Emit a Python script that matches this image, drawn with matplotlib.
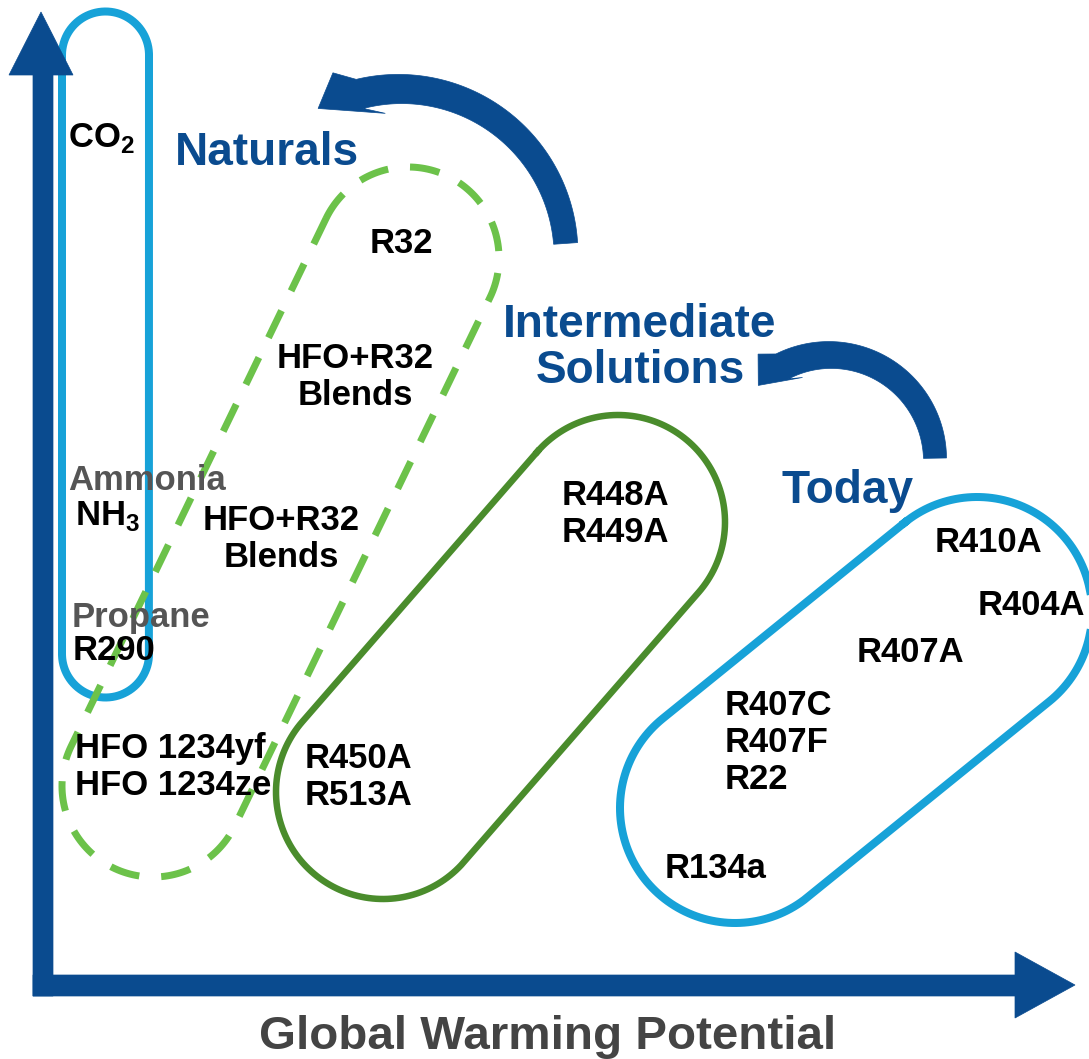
import numpy as np
import matplotlib.pyplot as plt
from matplotlib.patches import Polygon

plt.rcParams['font.family'] = ['Liberation Sans', 'DejaVu Sans']
plt.rcParams['font.weight'] = 'bold'
plt.rcParams['mathtext.fontset'] = 'custom'
plt.rcParams['mathtext.rm'] = 'Liberation Sans:bold'
plt.rcParams['mathtext.bf'] = 'Liberation Sans:bold'
plt.rcParams['lines.scale_dashes'] = False

W, H = 1089, 1059
PT = 0.72  # points per pixel at 100 dpi

# refrigerant families, drawn as rounded capsules (bottom end, top end, radius)
families = ["Naturals", "HFO / R32", "Intermediate", "Today"]
family_ends = [((105.5, 654), (105.5, 55)), ((153, 786), (408, 258)),
               ((383, 792), (618, 522)), ((735, 808), (977, 612))]
family_radius = [43.5, 91, 107, 115]
family_colors = ["#17a2d8", "#6cc24a", "#4a8c2c", "#17a2d8"]
family_dashed = [False, True, False, False]

# refrigerants inside the capsules
refrigerants = ["CO$_\\mathbf{2}$", "R32", "HFO+R32\nBlends", "NH$_\\mathbf{3}$",
                "HFO+R32\nBlends", "R290", "HFO 1234yf\nHFO 1234ze",
                "R448A\nR449A", "R450A\nR513A", "R410A", "R404A", "R407A",
                "R407C\nR407F\nR22", "R134a"]
refrigerant_xy = [(68, 147), (370, 253), (355, 368), (75, 525), (281, 530),
                  (73, 660), (75, 758), (562, 505), (305, 768), (935, 552),
                  (978, 615), (857, 662), (725, 715), (665, 878)]
refrigerant_ha = ["left", "left", "center", "left", "center", "left", "left",
                  "left", "left", "left", "left", "left", "left", "left"]

common_names = ["Ammonia", "Propane"]
common_xy = [(68, 490), (72, 627)]

stages = ["Naturals", "Intermediate\nSolutions", "Today"]
stage_xy = [(175, 165), (640, 337), (782, 503)]
stage_ha = ["left", "center", "left"]

# transition arrows: centre, radius, start/end angle
transition_center = [(400, 255), (830, 460)]
transition_radius = [166, 105]
transition_angles = [(4, 104), (1, 117)]

x_label = "Global Warming Potential"

navy = "#0a4b8f"
fig = plt.figure(figsize=(W / 100, H / 100), dpi=100)
ax = fig.add_axes([0, 0, 1, 1])
ax.set_xlim(0, W)
ax.set_ylim(H, 0)
ax.axis("off")


def capsule(a, b, r, n=90):
    ax_, ay_ = a
    bx_, by_ = b
    phi = np.arctan2(by_ - ay_, bx_ - ax_)
    t1 = np.linspace(phi - np.pi / 2, phi + np.pi / 2, n)
    t2 = np.linspace(phi + np.pi / 2, phi + 3 * np.pi / 2, n)
    xs = np.concatenate([bx_ + r * np.cos(t1), ax_ + r * np.cos(t2), [bx_ + r * np.cos(t1[0])]])
    ys = np.concatenate([by_ + r * np.sin(t1), ay_ + r * np.sin(t2), [by_ + r * np.sin(t1[0])]])
    return xs, ys


for (a, b), r, col, dashed in zip(family_ends, family_radius, family_colors, family_dashed):
    xs, ys = capsule(a, b, r)
    if dashed:
        ax.plot(xs, ys, color=col, lw=7 * PT, dashes=(30 * PT, 22 * PT),
                solid_capstyle="butt", zorder=2)
    else:
        ax.plot(xs, ys, color=col, lw=(8 if col == "#17a2d8" else 6.5) * PT, zorder=2)


def curved_arrow(c, r, t0, t1, w0, w1, head):
    cx, cy = c
    t = np.radians(np.linspace(t0, t1, 120))
    w = np.linspace(w0, w1, t.size) / 2
    ox, oy = cx + (r + w) * np.cos(t), cy - (r + w) * np.sin(t)
    ix, iy = cx + (r - w) * np.cos(t), cy - (r - w) * np.sin(t)
    te = t[-1]
    px, py = cx + r * np.cos(te), cy - r * np.sin(te)
    tan = np.array([-np.sin(te), -np.cos(te)])
    rad = np.array([np.cos(te), -np.sin(te)])
    hp = [(px + a * tan[0] + b * rad[0], py + a * tan[1] + b * rad[1]) for a, b in head]
    verts = list(zip(ox, oy)) + hp + list(zip(ix[::-1], iy[::-1]))
    ax.add_patch(Polygon(verts, closed=True, fc=navy, ec=navy, lw=0.5, zorder=3))


heads = [[(21, 27), (44, -4), (-20, -25)], [(16, 22), (30, -6), (-13, -19)]]
widths = [(24, 30), (23, 28)]
for c, r, (t0, t1), (w0, w1), hd in zip(transition_center, transition_radius,
                                         transition_angles, widths, heads):
    curved_arrow(c, r, t0, t1, w0, w1, hd)

# axes drawn as thick arrows
ax.add_patch(Polygon([(33, 996), (33, 75), (9, 75), (41, 12), (73, 75), (53, 75), (53, 996)],
                     closed=True, fc=navy, ec=navy, lw=0.5, zorder=3))
ax.add_patch(Polygon([(33, 975), (1015, 975), (1015, 952), (1075, 985), (1015, 1018),
                      (1015, 996), (33, 996)],
                     closed=True, fc=navy, ec=navy, lw=0.5, zorder=3))

fs = 34.7 * PT
for txt, (x, y), ha in zip(refrigerants, refrigerant_xy, refrigerant_ha):
    for i, line in enumerate(txt.split("\n")):
        ax.text(x, y + 37 * i, line, ha=ha, va="baseline", fontsize=fs,
                fontweight="bold", color="black", zorder=4)

for txt, (x, y) in zip(common_names, common_xy):
    ax.text(x, y, txt, ha="left", va="baseline", fontsize=fs, fontweight="bold",
            color="#555555", zorder=4)

for txt, (x, y), ha in zip(stages, stage_xy, stage_ha):
    for i, line in enumerate(txt.split("\n")):
        ax.text(x, y + 46 * i, line, ha=ha, va="baseline", fontsize=46 * PT,
                fontweight="bold", color=navy, zorder=4)

ax.text(548, 1049, x_label, ha="center", va="baseline", fontsize=47.5 * PT,
        fontweight="bold", color="#444444")

fig.savefig("out.png", dpi=100)
